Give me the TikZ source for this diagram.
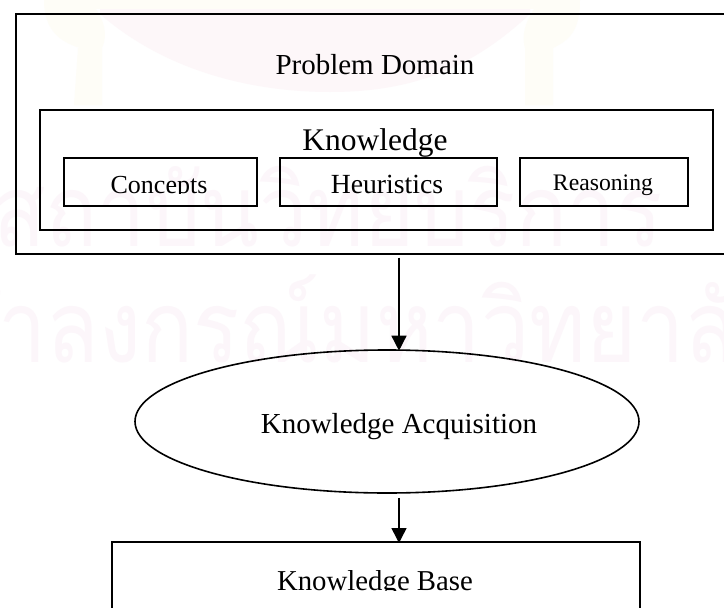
\documentclass[tikz,border=0pt]{standalone}
\usepackage{fontspec}
\setmainfont{Liberation Serif}
\newfontfamily\thaifont[Script=Thai]{Loma}
\usetikzlibrary{arrows.meta,shapes.geometric}
\definecolor{wmpink}{HTML}{FCF6FA}
\definecolor{wmrose}{HTML}{FDF7F9}
\definecolor{wmyellow}{HTML}{FEFDF7}
\tikzset{
  x=1pt,y=-1pt,
  frame/.style={draw=black,line width=1.6pt,rectangle,inner sep=0pt,anchor=north west},
  oval/.style={draw=black,line width=1.6pt,ellipse,inner sep=0pt,minimum width=504pt,minimum height=143pt},
  lbl/.style={anchor=base,inner sep=0pt,text=black},
  flow/.style={draw=black,line width=1.5pt,-{Triangle[length=15pt,width=15pt]}},
  wmark/.style={anchor=base west,inner sep=0pt,text=wmpink,font=\thaifont\fontsize{100}{100}\selectfont,transform shape}
}
\begin{document}
\begin{tikzpicture}
\clip (0,0) rectangle (724,608);
\fill[white] (0,0) rectangle (724,608);
% watermark
\fill[wmrose] (100,14) .. controls (170,75) and (260,92) .. (330,92) .. controls (410,92) and (470,70) .. (530,14) -- (530,0) -- (100,0) -- cycle;
\fill[wmyellow] (45,0) -- (580,0) -- (580,9) -- (45,9) -- cycle;
\fill[wmyellow] (44,0) .. controls (44,30) and (60,42) .. (80,48) -- (78,48) -- (74,105) -- (102,105) -- (102,48) .. controls (110,30) and (100,14) .. (90,0) -- cycle;
\fill[wmyellow] (580,0) .. controls (580,30) and (570,40) .. (553,48) -- (553,105) -- (525,105) -- (525,48) .. controls (520,30) and (530,14) .. (540,0) -- cycle;
\begin{scope}[xscale=.86]
\node[wmark] (wa) at (-8,246) {สถาบันวิทยบริการ};
\node[wmark] (wb) at (-129,362) {จุฬาลงกรณ์มหาวิทยาลัย};
\end{scope}
% boxes
\node[frame,minimum width=760pt,minimum height=240pt] (outer) at (15,13) {};
\node[frame,minimum width=673pt,minimum height=120pt] (know) at (39,109) {};
\node[frame,minimum width=193pt,minimum height=48pt] (conc) at (63,157) {};
\node[frame,minimum width=217pt,minimum height=48pt] (heur) at (279,157) {};
\node[frame,minimum width=168pt,minimum height=48pt] (reas) at (519,157) {};
\node[oval] (acq) at (387,421.5) {};
\node[frame,minimum width=528pt,minimum height=110pt] (kb) at (111,541) {};
% labels
\node[lbl,font=\fontsize{29}{29}\selectfont] (tp) at (375,74) {Problem Domain};
\node[lbl,font=\fontsize{31.5}{32}\selectfont] (tk) at (375,150) {Knowledge};
\begin{scope}
\clip (63,157) rectangle (256,193.5);
\node[lbl,font=\fontsize{26}{26}\selectfont] (tc) at (159,193) {Concepts};
\end{scope}
\node[lbl,font=\fontsize{27.7}{28}\selectfont] (th) at (387,193) {Heuristics};
\node[lbl,font=\fontsize{23.7}{24}\selectfont] (tr) at (603,190) {Reasoning};
\node[lbl,font=\fontsize{29}{29}\selectfont] (ta) at (399,433) {Knowledge Acquisition};
\begin{scope}
\clip (111,541) rectangle (639,590.5);
\node[lbl,font=\fontsize{28.8}{29}\selectfont] (tb) at (375,590) {Knowledge Base};
\end{scope}
% connectors
\coordinate (axis) at (399,300);
\draw[flow] ([yshift=-3pt]outer.south -| axis) -- ([yshift=-1.5pt]acq.north -| axis);
\draw[flow] ([yshift=-4pt]acq.south -| axis) -- ([yshift=-2pt]kb.north -| axis);
\end{tikzpicture}
\end{document}
